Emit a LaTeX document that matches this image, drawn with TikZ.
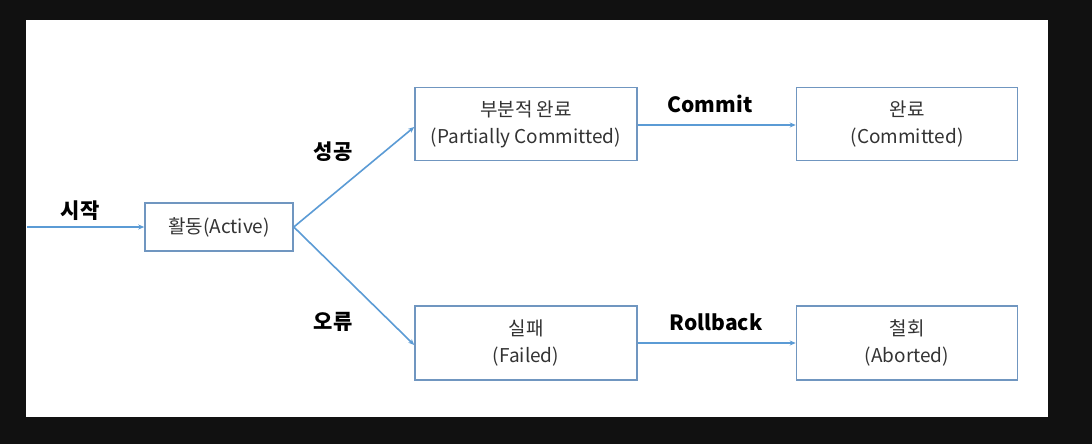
\documentclass[tikz,border=0pt]{standalone}
\usepackage{fontspec}
\setmainfont{Noto Sans CJK KR}
\usetikzlibrary{arrows.meta}
\definecolor{bg}{HTML}{111111}
\definecolor{boxc}{HTML}{7096C0}
\definecolor{arr}{HTML}{5B9BD5}
\tikzset{
  state/.style={draw=boxc, line width=1.6pt, fill=white, minimum width=#1, align=center, font=\fontsize{19}{27}\selectfont, text=black!80},
  state/.default=222pt,
  conn/.style={draw=arr, line width=1.6pt, -{Stealth[length=6pt,width=5pt]}},
  lbl/.style={font=\fontsize{21}{25}\selectfont\bfseries, text=black}
}
\begin{document}
\begin{tikzpicture}[x=1pt,y=-1pt]
\fill[bg] (0,0) rectangle (1092,444);
\fill[white] (26,20) rectangle (1048,417);
\useasboundingbox (0,0) rectangle (1092,444);
\node[state=148pt, minimum height=48pt] (act) at (219,227) {활동(Active)};
\node[state, minimum height=73pt] (pc) at (526,124) {부분적 완료\\(Partially Committed)};
\node[state=221pt, minimum height=73pt] (cm) at (907,124) {완료\\(Committed)};
\node[state, minimum height=74pt] (fl) at (526,343) {실패\\(Failed)};
\node[state=221pt, minimum height=74pt] (ab) at (907,343) {철회\\(Aborted)};
\coordinate (start) at (27,227);
\draw[conn] (start) -- (act.west);
\draw[conn] (act.east) -- (pc.west |- 0,127);
\draw[conn] (act.east) -- (fl.west |- 0,345);
\draw[conn] (pc.east |- 0,125) -- (cm.west |- 0,125);
\draw[conn] (fl.east |- 0,343) -- (ab.west |- 0,343);
\node[lbl] (l1) at (80,211) {시작};
\node[lbl] (l2) at (333,152) {성공};
\node[lbl] (l3) at (333,322) {오류};
\node[lbl] (l4) at (710,104) {Commit};
\node[lbl] (l5) at (716,322) {Rollback};
\end{tikzpicture}
\end{document}
